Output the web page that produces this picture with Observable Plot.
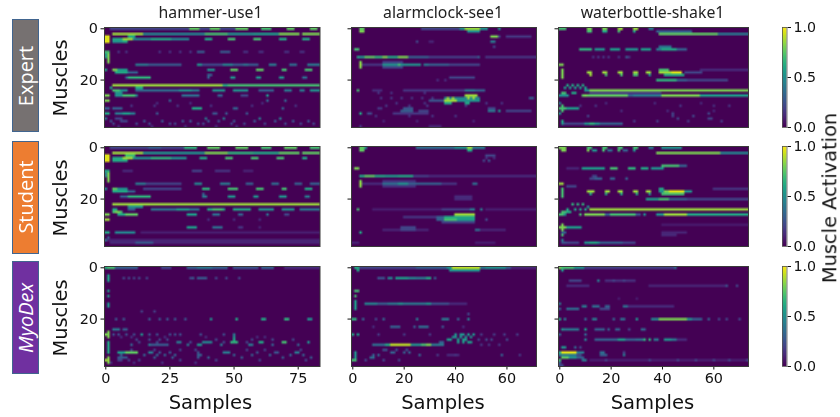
<!DOCTYPE html>
<html><head><meta charset="utf-8">
<script src="https://cdn.jsdelivr.net/npm/d3@7"></script>
<script src="https://cdn.jsdelivr.net/npm/@observablehq/plot@0.6"></script>
<style>
html,body{margin:0;padding:0;background:#fff;width:840px;height:417px;overflow:hidden}
#c{position:relative;width:840px;height:417px;filter:blur(.22px)}
#c svg{position:absolute;overflow:visible;background:transparent;color:#111;font-family:"DejaVu Sans",sans-serif}
.t{position:absolute;white-space:nowrap;transform:translate(-50%,-50%);color:#111;font-family:"DejaVu Sans",sans-serif;line-height:1}
.r{transform:translate(-50%,-50%) rotate(-90deg)}
.box{position:absolute;box-sizing:border-box;border:1.5px solid #41658f;left:12px;width:27px}
</style></head><body><div id="c"></div>
<script>
const muscleCount = 39;
const muscleTicks = [0, 20];
const methods = ["Expert", "Student", "MyoDex"];
const methodColors = ["#767171", "#ED7D31", "#7030A0"];
const tasks = ["hammer-use1", "alarmclock-see1", "waterbottle-shake1"];
const sampleCounts = [84, 72, 74];
const sampleTicks = [[0, 25, 50, 75], [0, 20, 40, 60], [0, 20, 40, 60]];
const colorTicks = [0, 0.5, 1];

// Activation runs: [muscle, firstSample, lastSample, level]
const hammerExpert = [[0,2,33,.2],[0,33,37,.75],[0,37,41,.2],[0,41,45,.75],[0,45,51,.2],[0,51,56,.75],[0,61,65,.7],[0,70.5,74,.75],[0,80,83,.75],
[2,2.5,15,.85],[2,15,39,.45],[2,39,48,.7],[2,48,58,.5],[2,58,68,.55],[2,68,76,.8],[2,77,84,.8],
[3,0,2,.95],[4,0,2,.95],[5,0,2,.95],[4,3,7,.6],[4,7,11,.85],[4,11,33,.45],[4,18,26,.6],[4,39,41.5,.6],[4,48,51,.7],[4,58,61,.7],[4,68,71,.6],[4,77,80,.6],[5,3,7,.5],[5,7,9,.6],[3,9,12,.6],
[9,0,2,.7],[10,0,1,.5],[11,0,1,.5],[10,1,2,.8],[11,1,2,.8],[12,1,2,.8],[13,1,2,.8],
[14,12,17,.4],[14,17,30,.28],[14,36,38,.5],[14,38,46,.22],[14,46,50,.45],[14,50,60,.28],[14,54,56,.38],[14,64,67,.4],[14,72,75,.35],[14,79,84,.4],
[16,0,1,.6],[16,3,5,.8],[16,5,9,.55],[16,40,43,.5],[16,49,52,.75],[16,59,61.5,.75],[16,68.5,70.5,.7],[16,77.5,81,.7],[17,4,9,.6],[17,9,13,.3],
[19,8,9,.3],[19,9,18,.65],[19,40,41,.3],[19,49,51,.5],[19,59,61,.5],[19,68,70,.5],[19,77,79,.35],[18,40,42,.3],
[22,3,46,.85],[22,46,48,.6],[22,48,84,.7],[23,12,15,.6],
[24,3,6,.7],[24,6,9,.5],[24,12,29,.35],[24,29,34,.5],[24,34,37,.4],[24,42,47,.5],[24,50,56,.5],[24,60,66,.3],[24,70,73,.4],[24,76,78,.4],[24,80,84,.5],[23,2,3,.6],[25,4,7,.5],
[26,0,2,.8],[26,4,7,.5],[26,7,12,.7],[26,12,13,.4],[26,30,37,.35],[26,44,46,.3],[26,53,56,.2],[26,63,64,.5],[28,0,2,.8],
[31,0,2,.3],[31,3,7,.3],[31,34,38,.6],[33,0,2,.6],[33,4,7,.4],[33,7,10,.55],[33,10,12,.4],[35,4,7,.2],[36,6,9,.2]];
const hammerExpertDots = [[9,.15,5,8,21,25,29,33],[9,.28,36,37,38,45,46,47,48],[9,.14,54,55,60,61,70,71,76,77],
[28,.3,25,70,63],[31,.3,50,51,69],[33,.25,20,42,43,47,55],[35,.4,0,39,46,60,68],[36,.25,2,15,22,30,33,40,44,50,58,66,73,79],[37,.2,3,12,17,25,27,36,38,49,54,62,70,76,81],[38,.12,5,18,31,43,51],[30,.14,10,19,28,41,57,74],[29,.12,20,33,61]];

const hammerStudent = [[0,2,31,.2],[0,17,22,.3],[0,31,36,.65],[0,40,45,.75],[0,51,56,.75],[0,61,65,.7],[0,70,75,.75],[0,80,84,.7],
[2,2.5,15,.85],[2,15,39,.5],[2,39,48,.8],[2,48,58,.65],[2,58,68,.6],[2,68,76,.75],[2,77,84,.75],
[3,0,2,.95],[4,0,2,.95],[5,0,2,.95],[4,3,7,.6],[4,7,11,.85],[4,11,32,.5],[4,18,26,.65],[4,37,40,.6],[4,47,50,.7],[4,57,60,.7],[4,67,70,.7],[4,77,79,.6],[3,8,12,.7],[5,3,9,.6],
[9,0,2,.6],[9,7,11,.12],[9,34,38,.2],[9,43,49,.15],[9,54,58,.1],[10,0,1,.4],[11,0,1,.4],[10,1,2,.8],[11,1,2,.8],[12,1,2,.8],[13,1,2,.8],
[14,12,16,.4],[14,16,30,.2],[14,35,38,.45],[14,45,49,.4],[14,55,58,.3],[14,65,68,.35],[14,74,77,.3],[14,80,84,.3],
[16,0,1,.5],[16,3,5,.75],[16,5,9,.5],[16,15,30,.2],[16,38,41,.65],[16,48,52,.7],[16,59,62,.7],[16,69,71,.7],[16,78,81,.6],[17,3,9,.6],[17,9,12,.3],
[19,6,9,.3],[19,9,18,.65],[19,38,40,.4],[19,48,51,.5],[19,58,60,.5],[19,68,71,.5],[19,78,80,.4],[18,38,39,.3],
[22,3,84,.85],[23,9,15,.5],[24,3,5,.6],[24,9,12,.3],[24,18,37,.38],[24,28,33,.55],[24,40,47,.6],[24,42,46,.7],[24,50,57,.6],[24,60,66,.5],[24,69,74,.5],[24,76,84,.4],[25,3,7,.7],[25,4,6,.8],
[26,0,2,.8],[26,5,10,.6],[26,8,13,.75],[26,32,36,.55],[26,42,45,.35],[26,52,54,.3],[26,63,64,.35],[26,70,72,.2],[28,0,2,.85],
[31,32,36,.55],[31,42,46,.35],[31,52,54,.15],[33,0,2,.6],[33,4,12,.45],[33,14,84,.08],[35,1,2,.3],[36,0,1,.35],[36,1,84,.1],[37,2,12,.12],[37,12,19,.28],[37,19,84,.1]];
const hammerStudentDots = [[28,.12,40,50,60],[31,.1,60]];

const hammerMyoDex = [[0,0,1,.6],[0,1,4,.7],[0,4,13,.3],[0,22,26,.2],[0,32,48,.3],[0,36,42,.4],[0,50,60,.25],[0,61,66,.3],[0,70,84,.12],
[3,.5,1.5,.55],[4,.5,1.5,.6],[5,.5,1.5,.55],[9,.5,1.5,.55],[11,.5,1.5,.55],[14,.5,1.5,.5],[15,.5,1.5,.5],
[25,.5,1.5,.8],[26,0,2,.8],[27,.5,1.5,.8],[29,.5,1.5,.6],[30,.5,1.5,.6],[31,.5,1.5,.6],[32,.5,1.5,.6],[33,.5,1.5,.6],[35,.5,1.5,.8],[36,0,2,.85],[37,.5,1.5,.8],
[24,3,6,.4],[24,7,9,.3],[26,50,51,.4],[27,50,51,.5],[28,50,51,.6],[29,49,52,.65],[29,38,42,.45],[29,60,62,.6],[29,69,71,.7],[29,28,30,.4],[29,79,80,.5],
[30,18,25,.28],[30,36,38,.5],[33,4.5,8,.55],[33,8,13,.75]];
const hammerMyoDexDots = [[4,.2,7,9,11,13,16,33,43,47,52],[4,.28,34,36,37,38,39],[17,.18,14,19],[20,.25,4,7,17,21,24,27,31],[20,.5,41,79,80],[20,.6,51,61,62],[20,.65,70,71],
[26,.22,3,5,8,11,17,20,25,27,29,37,46],[26,.5,14],[28,.2,12,17,21,24,43,57,65,73],[29,.2,13,20,33,46,55],[30,.4,17,32,45,56,57],[30,.3,10,65,75],[27,.14,6,10,23,39,59,62],
[33,.4,17,18,46,47,48,74,75],[33,.25,21,25,36,59,66,67],[34,.3,6,15,20,23,27,36,37,50,57,64,72,77],[35,.28,5,6,7,8,19,26,36,40,53,69,80],[36,.2,5,6,9,13,29,43,60,78],[37,.14,2,11,22,35],[32,.2,10,19,29,35,55,62,76]];

const alarmExpert = [[0,3,5,.75],[0,27,42,.2],[0,42,44,.5],[0,44,50,.85],[0,50,53,.5],[0,57,58,.5],[1,3,5,.8],[1,45,50,.5],
[3,53.5,56.5,.8],[3,57,58,.2],[3,60,70,.16],[5,54,56,.4],[5,25,26,.2],[5,30,32,.1],[7,55,56,.2],[8,.5,2.5,.7],
[11,2,3,.6],[11,3,5,.5],[11,5,9,.75],[11,9,13,.65],[11,12,14,.8],[11,14,18,.6],[11,18,22,.8],[11,22,30,.3],[11,30,49,.18],[11,49,50,.3],[11,52,72,.15],
[13,2.5,3.5,.8],[14,2.5,3.5,.85],[15,2.5,3.5,.8],[14,4,12,.15],[14,12,18,.5],[14,18,19,.7],[14,19,27,.5],[14,28,30,.4],[14,30,38,.3],[14,38,50,.2],[13,12,20,.18],[15,12,20,.2],
[19,38,48,.2],[24,2,3,.7],[24,8,12,.12],[24,20,44,.15],[24,44,48,.4],[24,48,52,.3],
[26,44,49,.85],[27,36,50,.45],[28,36,41,.85],[28,41,50,.5],[29,36,39,.6],[29,44,46,.6],[28,30,36,.25],
[31,20,24,.25],[32,19,24,.3],[32,26,30,.2],[31,10,12,.15],[31,53,56,.2],[32,53,56,.4],[32,57,58,.5],[32,60,70,.2],[33,2.5,3.5,.6],[33,6,8,.2],[33,16,30,.15],[38,30,35,.1]];
const alarmExpertDots = [[20,.12,33,36],[27,.15,11,15,19,23,27,31],[27,.3,69,70],[27,.85,37,39,45,47],[25,.14,10,15,28],[29,.14,17,28,52,58],[30,.15,13,22,29,44],[34,.14,9,22,31,40],[38,.15,3],[5,.2,54,55],[36,.1,12,25,47]];

const alarmStudent = [[0,3,5,.75],[0,25,40,.35],[0,40,45,.5],[0,45,47,.85],[0,47,52,.4],[1,3,5,.75],[1,45,47,.6],[0,5,6,.5],
[3,52,56,.2],[5,51,52,.2],[5,53,54,.25],[8,.5,2.5,.8],
[11,2.5,3.5,.6],[11,3.5,5,.6],[11,5,9,.75],[11,9,13,.6],[11,13,18,.55],[11,18,24,.6],[11,24,30,.18],[11,30,72,.12],
[13,2.5,3.5,.8],[14,2.5,3.5,.85],[15,2.5,3.5,.8],[14,4,12,.12],[14,12,18,.35],[14,18,22,.5],[14,22,35,.3],[14,35,41,.15],[14,47,49,.35],[13,12,25,.14],[15,12,25,.14],
[19,40,47,.12],[20,40,47,.12],[24,2,3,.7],[24,8,35,.08],[24,35,46,.18],[24,46,48,.4],[24,50,51,.4],[24,52,72,.08],
[26,40,48,.85],[27,20,33,.15],[27,33,36,.3],[27,36,48,.6],[28,33,36,.3],[28,36,41,.7],[28,41,48,.55],[29,35,48,.2],[28,52,53,.2],
[31,19,25,.2],[32,19,25,.2],[32,12,19,.1],[32,25,30,.1],[32,48,50,.35],[32,50,60,.1],[33,2.5,3.5,.6],[37,0,3,.1],[37,48,56,.08]];
const alarmStudentDots = [[4,.12,52,55]];

const alarmMyoDex = [[0,1,3,.6],[0,3,25,.2],[0,25,37,.3],[0,37,39,.5],[0,39,50,.9],[0,50,52,.4],[0,52,60,.5],[0,60,62,.3],[0,62,72,.1],[1,1.5,2.5,.6],[1,38,50,.5],
[4,10,13,.25],[4,14,16,.45],[4,17,22,.55],[4,22,25,.45],[4,25,29,.4],[4,29,31,.6],[4,32,33,.3],[9,1,2.5,.7],[11,.5,1.5,.7],
[14,5,10,.45],[14,10,14,.3],[14,14,18,.4],[14,18,20,.5],[14,20,29,.4],[14,29,31,.5],[14,31,38,.25],[14,38,45,.12],[13,.5,1.5,.55],[14,.5,1.5,.55],[15,.5,1.5,.55],[16,.5,1.5,.55],
[20,0,1.5,.65],[20,35,38,.4],[23,15,19,.3],[23,26,30,.35],
[29,34,36,.3],
[30,8,13,.35],[30,13,15,.6],[30,15,23,.9],[30,23,27,.5],[30,27,29,.7],[30,29,31,.8],[30,31,36,.4],
[33,.5,1.5,.5],[34,.5,1.5,.5],[35,.5,1.5,.5],[36,0,1.5,.7],[34,37,42,.12]];
const alarmMyoDexDots = [[18,.2,45],[20,.3,4,41,12],[20,.2,9],[20,.4,25,45],[23,.25,24,35],[23,.12,8,43],[26,.6,0],[26,.55,2],[26,.16,10,20,30,50,55,59,64],[30,.15,50,53,57],[28,.2,49,52,54,60],
[26,.5,40,42,43,45,47],[27,.5,39,40,42,44,46],[28,.55,37,38,41,43,44],[29,.55,41,43,45,46],
[32,.25,12,13,17,21],[33,.3,15,16,20,22],[34,.3,8,10,26,58],[35,.35,7,8],[36,.2,5,12,18],[34,.16,33,40,65]];

const waterExpert = [[0,0,3,.7],[0,11,13,.8],[0,17,19,.8],[0,23,25,.85],[0,29,31,.85],[0,35,37,.4],[1,10.5,13,.7],[1,17,19,.6],[1,23,24,.7],[1,29,30,.6],
[2,39,62,.75],[2,62,74,.4],[1,38,52,.3],[8,8,13,.65],[8,14,18,.5],[8,20,24,.55],[8,26,31,.5],[8,32,36,.55],[8,38,40,.4],[8,40,46,.6],[8,46,50,.3],[7,39,44,.4],
[14,0,2,.8],[16,.5,1.5,.8],[17,.5,1.5,.8],[18,.5,1.5,.8],[19,.5,1.5,.8],
[17,11,13,.85],[18,12,13,.85],[17,17,19,.85],[18,18,19,.7],[17,23,25,.85],[18,24,25,.7],[17,29,30.5,.85],[18,29,30.5,.7],[17,34,36,.85],[18,35,36,.5],
[16,39,43,.7],[17,39,44,.85],[17,44,48,.95],[18,41,49,.6],[17,49,56,.2],[16,55,74,.12],
[20,38,46,.65],[20,46,50,.3],[20,50,66,.2],[24,10,12,.5],[24,12,74,.8],[25,12,40,.15],
[26,0,2,.5],[26,2,4,.5],[26,9,27,.75],[26,27,29,.3],[26,29,40,.4],[26,40,55,.8],[26,55,74,.55],[26,10,11,.8],[25,1,3,.7],[25,5,7,.6],
[31,0,3,.7],[31,3,8,.55],[30,.5,1.5,.7],[32,.5,1.5,.7],[29,0,1,.4],[33,0,1,.5],[37,1,2,.5],[36,1,2,.6],[37,2,10,.2],[37,10,16,.5],[37,12,14,.65],[37,16,25,.3]];
const waterExpertDots = [[11,.15,13,15,17,19,23,27],[11,.28,26],[22,.6,3,5,7,9],[23,.55,2,4,6,8,10],[30,.14,8,14,47,60,66],[33,.2,44,58],[34,.2,11,44,52],[35,.2,46,58,59],[36,.16,29,38,50,63],[29,.12,18,37,55],[32,.12,24,42,60]];

const waterStudent = [[0,0,3,.8],[0,11,13,.7],[0,17,19,.7],[0,23,25,.7],[0,29,31,.7],[0,35,37,.4],[0,40,48,.5],[1,1,3,.8],[1,10.5,12,.8],[1,13,15,.5],[1,17,18,.7],[1,19,21,.35],[1,23,24,.7],[1,25,27,.3],[1,29,30,.5],
[2,38,63,.8],[2,63,74,.45],[8,3,8,.1],[8,9,18,.55],[8,20,23,.7],[8,27,30,.65],[8,32,35,.6],[8,36,39,.5],[8,39,41,.5],[7,40,47,.7],[7,47,50,.3],
[12,12,14,.2],[12,14,17,.3],[12,20,22,.3],[12,26,27,.3],[11,13,15,.2],[14,0,2,.85],[15,3,7,.2],
[16,.5,1.5,.7],[17,.5,1.5,.7],[18,.5,1.5,.7],[19,.5,1.5,.7],[17,11,13.5,.85],[18,12,13,.6],[17,18,20,.85],[18,18,19,.6],[17,23,25,.85],[18,24,25,.6],[17,29,31,.85],[18,30,31,.6],[17,34,36,.85],[18,35,36,.5],
[16,39,41,.6],[17,39,41,.5],[17,41,44,.8],[17,43,49,.95],[17,49,52,.5],[18,40,49,.7],[16,60,74,.15],
[20,34,39,.55],[20,39,43,.7],[20,43,50,.3],[20,50,74,.2],[24,12,74,.85],[25,1,3,.7],[25,3,5,.6],
[26,0,1.5,.7],[26,2,3,.5],[26,8,9,.7],[26,10,18,.8],[26,18,20,.3],[26,20,30,.7],[26,30,32,.25],[26,33,34,.5],[26,38,41,.5],[26,41,50,.85],[26,50,74,.6],
[31,0,3,.8],[31,3,9,.55],[30,.5,1.5,.8],[32,.5,1.5,.8],[33,1,3,.3],[34,.5,1.5,.7],[30,40,74,.07],[33,40,50,.1],[34,40,46,.12],[36,1,2,.4],[37,1,3,.25],[37,3,8,.2],[37,10,16,.5],[37,12,15,.6],[37,16,25,.3],[37,25,30,.2]];
const waterStudentDots = [[22,.65,5,7,9],[24,.6,3,6,8,10],[23,.5,11]];

const waterMyoDex = [[0,0,1,.8],[0,1,6,.7],[0,6,10,.5],[0,10,45,.18],[0,45,46,.35],[1,.5,1.5,.5],[5,5,9,.2],[5,18,30,.13],[7,3,12,.12],[7,35,65,.1],
[15,9,11,.4],[15,13,16,.35],[15,18,20,.3],[15,25,27,.35],[16,3,8,.35],[16,16,20,.2],[16,0,1,.3],[15,27,45,.12],
[20,0,1,.6],[20,2,3,.4],[20,10,11,.3],[20,13,15,.4],[20,21,22,.3],[20,24,26,.35],[20,36,39,.45],[20,39,50,.8],[20,50,52,.5],[20,52,56,.3],
[24,.5,1,.5],[24,1,8,.4],[24,10,11,.55],[24,14,17,.3],[24,22,24,.3],[28,14,30,.3],[28,23,26,.55],[28,30,33,.35],[28,37,39,.4],[28,41,44,.5],[28,44,46,.4],[28,46,50,.12],
[31,.5,3,.5],[33,0,1,.6],[33,1,7,.95],[33,7,10,.4],[33,16,18,.35],[34,0,7,.4],[34,7,9,.2],[34,16,19,.3],[34,24.5,26,.4],[35,1,4,.75],[35,4,7,.5],[35,7,10,.3],[36,0,1,.7],[36,9,11,.4],[36,12,74,.08],[37,0,1,.3],[38,0,2,.2]];
const waterMyoDexDots = [[5,.4,15],[5,.2,4,21,25],[7,.25,65],[7,.2,69],[14,.4,0],[20,.5,30],[20,.3,58],[20,.2,62,65,70],[24,.35,32],[24,.3,33,17,19],[24,.2,27,33],[26,.3,0,10],[28,.4,10],[28,.65,33,35],[31,.3,6],[31,.2,8],[36,.2,18,35,46,53,60,66,73],[33,.2,25],[12,.08,23,30]];

const panels = [
  [[hammerExpert, hammerExpertDots], [alarmExpert, alarmExpertDots], [waterExpert, waterExpertDots]],
  [[hammerStudent, hammerStudentDots], [alarmStudent, alarmStudentDots], [waterStudent, waterStudentDots]],
  [[hammerMyoDex, hammerMyoDexDots], [alarmMyoDex, alarmMyoDexDots], [waterMyoDex, waterMyoDexDots]]
];

function grid(runs, dots, n) {
  const g = new Float64Array(n * muscleCount);
  const put = (r, c, v) => { if (c >= 0 && c < n) g[r * n + c] = Math.max(g[r * n + c], v); };
  for (const [r, a, b, v] of runs) {
    const first = Math.ceil(a), last = Math.max(first + 1, Math.ceil(b));
    for (let c = first; c < last; c++) put(r, c, v);
  }
  for (const [r, v, ...cols] of dots) for (const c of cols) put(r, c, v);
  return Array.from(g);
}

const root = document.getElementById("c");
const colLeft = [103.5, 350.5, 557.5], colRight = [319, 535.5, 747.5];
const rowTop = [27, 146, 266], panelH = 100;
const titleX = [210.5, 443, 652.5];
const ml = 36, mr = 6, mt = 4, mb = 24;

function text(s, x, y, size, cls, extra) {
  const d = document.createElement("div");
  d.className = "t " + (cls || "");
  d.textContent = s;
  d.style.left = x + "px"; d.style.top = y + "px"; d.style.fontSize = size + "px";
  if (extra) Object.assign(d.style, extra);
  root.appendChild(d);
}

methods.forEach((m, i) => {
  const b = document.createElement("div");
  b.className = "box";
  const tops = [19, 141, 261], hs = [113, 112.5, 113];
  b.style.top = tops[i] + "px"; b.style.height = hs[i] + "px"; b.style.background = methodColors[i];
  root.appendChild(b);
  text(m, 25.5, tops[i] + hs[i] / 2, 20, "r", {color: "#fff", fontFamily: '"Open Sans",sans-serif', fontStyle: i === 2 ? "italic" : "normal"});
  text("Muscles", 61, [78, 198, 318][i], 19.4, "r");
  panels[i].forEach(([runs, dots], j) => {
    const n = sampleCounts[j], w = colRight[j] - colLeft[j];
    const bottom = i === 2;
    const svg = Plot.plot({
      width: w + ml + mr, height: panelH + mt + mb,
      marginLeft: ml, marginRight: mr, marginTop: mt, marginBottom: mb,
      x: {domain: [-0.5, n - 0.5], axis: null},
      y: {domain: [muscleCount - 0.5, -0.5], axis: null},
      color: {type: "linear", scheme: "viridis", domain: [0, 1]},
      marks: [
        Plot.raster(grid(runs, dots, n), {width: n, height: muscleCount, x1: -0.5, x2: n - 0.5, y1: -0.5, y2: muscleCount - 0.5, fill: d => d, imageRendering: "auto", imageFilter: "blur(0.55px)"}),
        Plot.axisY({ticks: muscleTicks, tickSize: 3.5, tickPadding: 3, fontSize: 14.4, label: null, tickFormat: j === 0 ? d => d : () => ""}),
        bottom ? Plot.axisX({ticks: sampleTicks[j], tickSize: 3.5, tickPadding: 3, fontSize: 14.4, label: null}) : null,
        Plot.frame({stroke: "#3a3a3a", strokeWidth: 1})
      ]
    });
    svg.style.left = (colLeft[j] - ml) + "px";
    svg.style.top = (rowTop[i] - mt) + "px";
    root.appendChild(svg);
  });
  const bar = Plot.plot({
    width: 4.5 + 6 + 30, height: panelH + mt + mb,
    marginLeft: 6, marginRight: 30, marginTop: mt, marginBottom: mb,
    x: {domain: [0, 1], axis: null},
    y: {domain: [0, 1], axis: null},
    color: {type: "linear", scheme: "viridis", domain: [0, 1]},
    marks: [
      Plot.rect(d3.range(0, 1, 0.01), {x1: 0, x2: 1, y1: d => d, y2: d => d + 0.0105, fill: d => d}),
      Plot.axisY({anchor: "right", ticks: colorTicks, tickSize: 3.5, tickPadding: 3, fontSize: 14.2, label: null, tickFormat: d3.format(".1f")}),
      Plot.frame({stroke: "#555", strokeWidth: 0.8})
    ]
  });
  bar.style.left = (782 - 6) + "px";
  bar.style.top = (rowTop[i] - mt) + "px";
  root.appendChild(bar);
});

tasks.forEach((t, j) => {
  text(t, titleX[j], 13, 15.8, "", {fontFamily: '"Noto Sans",sans-serif', color: "#222"});
  text("Samples", titleX[j], 403, 19.6);
});
text("Muscle Activation", 830, 197.5, 19.4, "r");
</script></body></html>
